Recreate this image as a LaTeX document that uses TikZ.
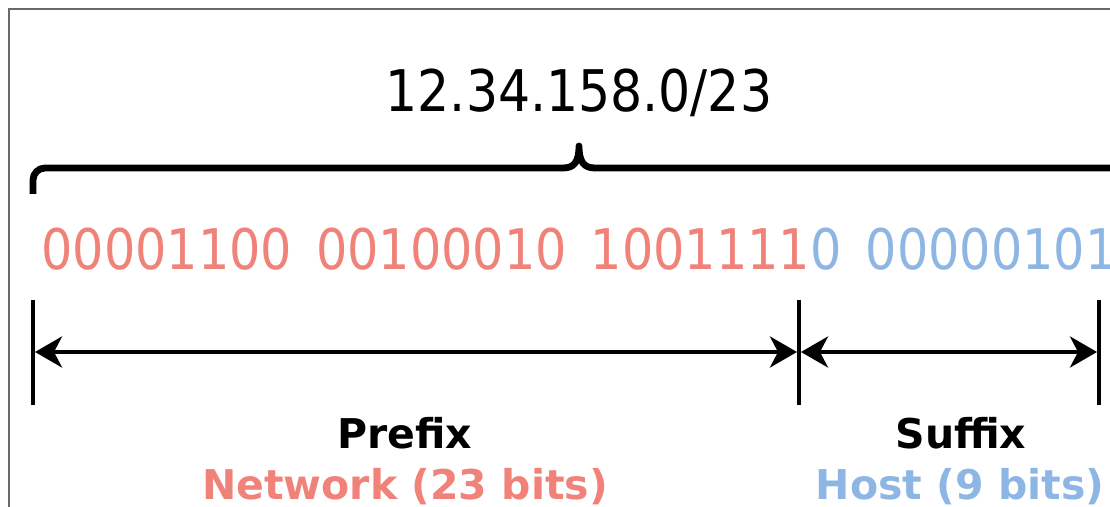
\documentclass[tikz,border=0pt]{standalone}
\usepackage{fontspec}
\setmainfont{DejaVu Sans}
\newfontfamily\narrowfont[FakeStretch=0.88]{DejaVu Sans}
\usetikzlibrary{arrows.meta}

\definecolor{netred}{RGB}{240,130,122}
\definecolor{hostblue}{RGB}{142,182,228}
\definecolor{framegray}{RGB}{105,105,105}

\begin{document}
\begin{tikzpicture}[x=0.5pt,y=-0.5pt,
		bar/.style={line width=2pt},
		span/.style={line width=2pt,shorten <=1pt,shorten >=1pt,
			{Stealth[length=13.5pt,width=15.5pt,inset=4pt]}-{Stealth[length=13.5pt,width=15.5pt,inset=4pt]}},
		brace/.style={line width=3.4pt,line join=round},
		label/.style={anchor=base,inner sep=0pt,font=\bfseries\fontsize{20.5}{24}\selectfont}]
		\useasboundingbox (0,0) rectangle (1110,507);
		\draw[framegray,line width=0.9pt] (9,507) -- (9,9) -- (1110,9);
		% address and its bits
		\node[anchor=base,inner sep=0pt,font=\narrowfont\fontsize{28.7}{34}\selectfont] (addr) at (579,112) {12.34.158.0/23};
		\node[anchor=base west,inner sep=0pt,font=\narrowfont\fontsize{28}{33}\selectfont] (bits) at (41,270)
			{\spaceskip=12pt\relax\textcolor{netred}{00001100 00100010 1001111}\textcolor{hostblue}{0 00000101}};
		\draw[brace] (33,194) -- (33,180) arc[start angle=180,end angle=270,radius=12] -- (563,168)
			.. controls (574,168) and (579,162) .. (579,146)
			.. controls (579,162) and (584,168) .. (595,168) -- (1113,168)
			arc[start angle=270,end angle=360,radius=12] -- (1125,194);
		% bars and spans
		\foreach \n/\x in {l/33,m/799,r/1099}{
			\coordinate (top-\n) at (\x,300);
			\coordinate (bot-\n) at (\x,405);
			\coordinate (mid-\n) at (\x,352);
			\draw[bar] (top-\n) -- (bot-\n);
		}
		\draw[span] (mid-l) -- (mid-m);
		\draw[span] (mid-m) -- (mid-r);
		% labels
		\node[label] (prefix) at (405,449) {Prefix};
		\node[label,text=netred] (network) at (405,500) {Network (23 bits)};
		\node[label] (suffix) at (961,449) {Suffix};
		\node[label,text=hostblue] (host) at (960,500) {Host (9 bits)};
	\end{tikzpicture}
\end{document}
